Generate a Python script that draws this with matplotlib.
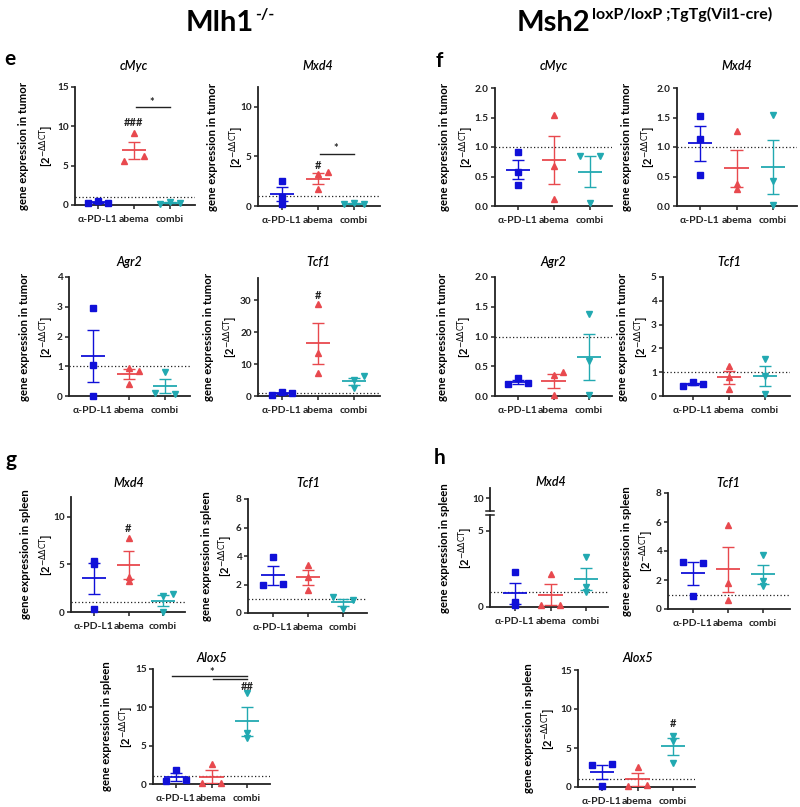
import numpy as np
import matplotlib

matplotlib.use("Agg")
import matplotlib.pyplot as plt
from matplotlib.lines import Line2D

plt.rcParams["font.family"] = ["Lato", "DejaVu Sans"]
plt.rcParams["mathtext.fontset"] = "dejavusans"

W, H = 800, 807

GROUPS = ["α-PD-L1", "abema", "combi"]
COLORS = ["#1010d8", "#e8494e", "#22a9b1"]
MARKERS = ["s", "^", "v"]

# values per group: [alpha-PD-L1, abema, combi]
E_CMYC = [[0.2, 0.5, 0.3], [9.1, 5.6, 6.2], [0.15, 0.4, 0.3]]
E_MXD4 = [[2.5, 0.9, 0.2], [3.4, 3.2, 1.7], [0.2, 0.3, 0.2]]
E_AGR2 = [[2.97, 1.05, 0.0], [0.95, 0.85, 0.4], [0.8, 0.1, 0.07]]
E_TCF1 = [[0.3, 1.3, 0.8], [28.7, 13.5, 7.2], [5.0, 6.2, 2.5]]
F_CMYC = [[0.91, 0.58, 0.35], [1.54, 0.68, 0.12], [0.85, 0.85, 0.05]]
F_MXD4 = [[1.52, 1.14, 0.52], [1.27, 0.37, 0.28], [1.54, 0.42, 0.02]]
F_AGR2 = [[0.2, 0.3, 0.22], [0.4, 0.35, 0.02], [1.37, 0.58, 0.02]]
F_TCF1 = [[0.42, 0.58, 0.52], [1.27, 0.8, 0.3], [1.55, 0.85, 0.1]]
G_MXD4 = [[5.4, 5.0, 0.3], [7.8, 3.7, 3.3], [1.65, 1.85, 0.05]]
G_TCF1 = [[3.9, 1.95, 2.05], [3.4, 2.5, 1.6], [1.1, 0.9, 0.3]]
G_ALOX5 = [[1.85, 0.35, 0.5], [2.6, 0.1, 0.1], [11.9, 6.6, 6.0]]
H_MXD4 = [[2.3, 0.3, 0.1], [2.2, 0.1, 0.15], [3.3, 1.3, 1.0]]
H_TCF1 = [[3.25, 3.2, 0.9], [5.8, 1.8, 0.6], [3.7, 1.9, 1.6]]
H_ALOX5 = [[2.8, 2.9, 0.1], [2.6, 0.1, 0.2], [6.6, 5.9, 3.1]]

# horizontal scatter of points inside a group (-1 left, 0 centre, 1 right)
Z = [[0, 0, 0]] * 3
JITTER = {
    "e_cmyc": [[-1, 0, 1], [0, -1, 1], [-1, 0, 1]],
    "e_mxd4": [[0, 0, 0], [1, 0, 0], [-1, 0, 1]],
    "e_agr2": [[0, 0, 0], [0, 1, 0], [0, -1, 1]],
    "e_tcf1": [[-1, 0, 1], [0, 0, 0], [0, 1, 0]],
    "f_cmyc": [[0, 0, 0], [0, 0, 0], [-1, 1, 0]],
    "f_mxd4": Z,
    "f_agr2": [[-1, 0, 1], [1, 0, 0], [0, 0, 0]],
    "f_tcf1": [[-1, 0, 1], [0, 0, 0], [0, 0, 0]],
    "g_mxd4": [[0, 0, 0], [0, 0, 0], [0, 1, 0]],
    "g_tcf1": [[0, -1, 1], [0, 0, 0], [-1, 1, 0]],
    "g_alox5": [[0, -1, 1], [0, -1, 1], [0, 0, 0]],
    "h_mxd4": [[0, 0, 0], [0, -1, 1], [0, 0, 0]],
    "h_tcf1": [[-1, 1, 0], [0, 0, 0], [0, 0, 0]],
    "h_alox5": [[-1, 1, 0], [0, -1, 1], [0, 0, 0]],
}
JIT = 0.28

TUMOR = "gene expression in tumor"
SPLEEN = "gene expression in spleen"
UNIT = r"[2$^{-\Delta\Delta\mathrm{CT}}$]"

fig = plt.figure(figsize=(W / 100, H / 100), dpi=100)


def fx(x):
    return x / W


def fy(y):
    return 1 - y / H


def style(ax, yticks, fmt, xaxis=True):
    for s in ("top", "right"):
        ax.spines[s].set_visible(False)
    for s in ("left", "bottom"):
        ax.spines[s].set_linewidth(1.3)
        ax.spines[s].set_color("#222222")
    ax.tick_params(direction="out", length=3, width=1.1, colors="#222222",
                   labelsize=7.2, pad=1.5)
    ax.set_yticks(yticks)
    ax.set_yticklabels([fmt.format(t) for t in yticks], fontweight="bold")
    if xaxis:
        ax.set_xticks([0, 1, 2])
        ax.set_xticklabels(GROUPS, fontweight="bold", fontsize=7.5)
        ax.tick_params(axis="x", pad=4.5)
    else:
        ax.spines["bottom"].set_visible(False)
        ax.set_xticks([])


def make_axes(axis_x, c0, c2, xend, y0, ytop, ylim):
    sp = (c2 - c0) / 2
    ax = fig.add_axes([fx(axis_x), fy(y0), (xend - axis_x) / W, (y0 - ytop) / H])
    ax.set_xlim((axis_x - c0) / sp, (xend - c0) / sp)
    ax.set_ylim(*ylim)
    ax.patch.set_alpha(0)
    return ax


def draw_groups(ax, values, jitter):
    for i, (vals, jit) in enumerate(zip(values, jitter)):
        c = COLORS[i]
        vals = np.asarray(vals, float)
        xs = i + np.asarray(jit) * JIT
        ax.plot(xs, vals, ls="none", marker=MARKERS[i], ms=5, color=c,
                mec=c, clip_on=False, zorder=3)
        m = vals.mean()
        s = vals.std(ddof=1) / np.sqrt(len(vals))
        ax.hlines(m, i - 0.34, i + 0.34, color=c, lw=1.3, zorder=4, clip_on=False)
        lo = max(m - s, 0)
        ax.vlines(i, lo, m + s, color=c, lw=1.0, zorder=4, clip_on=False)
        ax.hlines(m + s, i - 0.17, i + 0.17, color=c, lw=1.0, zorder=4, clip_on=False)
        if m - s >= 0:
            ax.hlines(m - s, i - 0.17, i + 0.17, color=c, lw=1.0, zorder=4)


def ref_line(ax):
    ax.axhline(1, color="#222222", ls=(0, (1, 1.8)), lw=0.9, zorder=1)


def ylabels(text, x1, x2, yc):
    fig.text(fx(x1), fy(yc), text, rotation=90, ha="center", va="center",
             fontsize=8.2, fontweight="bold")
    fig.text(fx(x2), fy(yc), UNIT, rotation=90, ha="center", va="center",
             fontsize=8, fontweight="bold")


def gene_title(name, x, y):
    fig.text(fx(x), fy(y), name, ha="center", va="center", fontsize=9,
             style="italic", fontweight="semibold")


def mark(ax, x, y, s, size=8):
    ax.text(x, y, s, ha="center", va="center", fontsize=size,
            fontweight="bold", color="#222222")


def bracket(ax, x0, x1, y):
    ax.plot([x0, x1], [y, y], color="#222222", lw=1.0, clip_on=False)


# panel: key, data, geometry, ticks, fmt, title, ylabel
PANELS = [
    ("e_cmyc", E_CMYC, (75, 98, 170, 195, 205, 87, (0, 15)), [0, 5, 10, 15], "{:g}",
     "cMyc", 66, TUMOR, 24, 47),
    ("e_mxd4", E_MXD4, (258, 282, 354, 380, 206, 87, (0, 12.0)), [0, 5, 10], "{:g}",
     "Mxd4", 66, TUMOR, 213, 237),
    ("e_agr2", E_AGR2, (69, 93, 165, 190, 396, 277, (0, 4)), [0, 1, 2, 3, 4], "{:g}",
     "Agr2", 262, TUMOR, 25, 47),
    ("e_tcf1", E_TCF1, (258, 282, 354, 380, 396, 278, (0, 36.9)), [0, 10, 20, 30], "{:g}",
     "Tcf1", 262, TUMOR, 208, 231),
    ("f_cmyc", F_CMYC, (495, 518, 590, 612, 206, 88, (0, 2)), [0, 0.5, 1, 1.5, 2], "{:.1f}",
     "cMyc", 66, TUMOR, 445, 467),
    ("f_mxd4", F_MXD4, (677, 700, 773, 797, 206, 88, (0, 2)), [0, 0.5, 1, 1.5, 2], "{:.1f}",
     "Mxd4", 66, TUMOR, 627, 649),
    ("f_agr2", F_AGR2, (495, 518, 589, 612, 396, 277, (0, 2)), [0, 0.5, 1, 1.5, 2], "{:.1f}",
     "Agr2", 262, TUMOR, 443, 465),
    ("f_tcf1", F_TCF1, (663, 693, 765, 790, 396, 277, (0, 5)), [0, 1, 2, 3, 4, 5], "{:g}",
     "Tcf1", 262, TUMOR, 622, 642),
    ("g_mxd4", G_MXD4, (71, 94, 163, 185, 612, 497, (0, 12.1)), [0, 5, 10], "{:g}",
     "Mxd4", 483, SPLEEN, 26, 47),
    ("g_tcf1", G_TCF1, (248, 273, 343, 367, 613, 499, (0, 8)), [0, 2, 4, 6, 8], "{:g}",
     "Tcf1", 483, SPLEEN, 207, 226),
    ("g_alox5", G_ALOX5, (153, 176, 247, 270, 784, 669, (0, 15)), [0, 5, 10, 15], "{:g}",
     "Alox5", 658, SPLEEN, 106, 127),
    ("h_mxd4", H_MXD4, (490, 515, 586, 608, 607, 515, (0, 6.05)), [0, 5], "{:g}",
     "Mxd4", 482, SPLEEN, 444, 466),
    ("h_tcf1", H_TCF1, (668, 693, 763, 790, 609, 493, (0, 8)), [0, 2, 4, 6, 8], "{:g}",
     "Tcf1", 483, SPLEEN, 627, 647),
    ("h_alox5", H_ALOX5, (578, 602, 673, 695, 787, 670, (0, 15)), [0, 5, 10, 15], "{:g}",
     "Alox5", 658, SPLEEN, 529, 549),
]

axes = {}
for key, data, geo, ticks, fmt, title, ty, ylab, l1, l2 in PANELS:
    ax = make_axes(*geo)
    style(ax, ticks, fmt)
    ref_line(ax)
    draw_groups(ax, data, JITTER[key])
    axis_x, c0, c2, xend, y0, ytop, _ = geo
    gene_title(title, (c0 + c2) / 2, ty)
    yc = (y0 + ytop) / 2 if key != "h_mxd4" else 548
    ylabels(ylab, l1, l2, yc)
    axes[key] = ax

# broken upper segment of h Mxd4
hu = make_axes(490, 515, 586, 608, 511, 488, (8.7, 11.0))
style(hu, [10], "{:g}", xaxis=False)
for yb in (511, 515):
    fig.add_artist(Line2D([fx(486), fx(494)], [fy(yb), fy(yb)], color="#222222", lw=1.1))

# significance marks
ax = axes["e_cmyc"]
bracket(ax, 1.05, 2.0, 12.4)
mark(ax, 1.5, 13.0, "*")
mark(ax, 1, 10.5, "###")
ax = axes["e_mxd4"]
bracket(ax, 1.05, 2.0, 5.25)
mark(ax, 1.5, 5.75, "*")
mark(ax, 1, 4.1, "#")
mark(axes["e_tcf1"], 1, 31.5, "#")
mark(axes["g_mxd4"], 1, 8.8, "#")
ax = axes["g_alox5"]
bracket(ax, -0.1, 2.0, 14.1)
bracket(ax, 1.05, 2.0, 13.7)
mark(ax, 1, 14.6, "*")
mark(ax, 2, 12.7, "##")
mark(axes["h_alox5"], 2, 8.1, "#")

# panel letters
for letter, x, y in (("e", 10, 59), ("f", 439, 61), ("g", 11, 460), ("h", 440, 458)):
    fig.text(fx(x), fy(y), letter, ha="center", va="center", fontsize=15,
             fontweight="bold")

# headers with superscripts
renderer = fig.canvas.get_renderer()
for main, sup, x in (("Mlh1", "-/-", 186), ("Msh2", "loxP/loxP ;TgTg(Vil1-cre)", 517)):
    t = fig.text(fx(x), fy(31), main, ha="left", va="baseline", fontsize=21,
                 fontweight="bold")
    bb = t.get_window_extent(renderer)
    fig.text(bb.x1 / W + 0.001, fy(19), sup, ha="left", va="baseline",
             fontsize=11.5, fontweight="bold")

fig.savefig("out.png", dpi=100, facecolor="white")
